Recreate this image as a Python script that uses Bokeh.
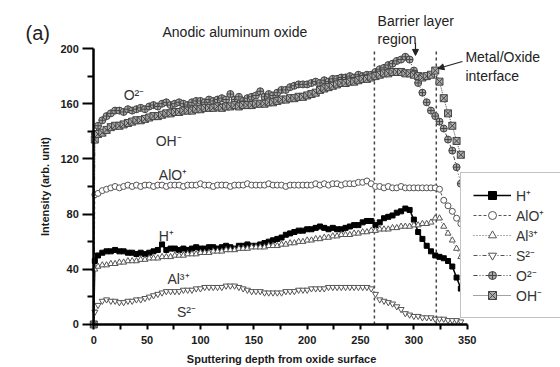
import math

from bokeh.plotting import figure
from bokeh.models import (Range1d, Legend, LegendItem, Label, Arrow, NormalHead,
                          ColumnDataSource, FixedTicker)
from bokeh.embed import file_html
from bokeh.resources import INLINE
from bokeh.core.properties import value

# sputtering depth grid (arb. depth units)
depth = [0, 1] + list(range(4, 348, 4))

h_plus = [0, 46, 50, 52, 53, 53, 54, 53, 53, 52,
          52, 51, 52, 51, 52, 53, 54, 58, 54, 55,
          55, 54, 55, 54, 55, 56, 55, 55, 56, 56,
          55, 56, 57, 56, 55, 57, 57, 58, 57, 57,
          58, 59, 60, 61, 62, 63, 65, 66, 67, 68,
          68, 69, 69, 70, 71, 70, 69, 70, 69, 69,
          70, 71, 72, 72, 74, 75, 75, 72, 74, 77,
          78, 79, 81, 82, 84, 83, 76, 67, 62, 57,
          53, 50, 49, 48, 46, 42, 34, 26]

alo_plus = [0, 94, 95, 97, 98, 99, 100, 99, 100, 101,
            100, 101, 100, 101, 101, 100, 101, 101, 100, 101,
            101, 101, 100, 101, 101, 101, 102, 101, 101, 100,
            101, 101, 101, 100, 101, 101, 101, 102, 101, 101,
            101, 101, 102, 101, 101, 101, 100, 101, 101, 101,
            101, 101, 101, 102, 101, 102, 101, 102, 102, 101,
            102, 102, 102, 103, 103, 104, 102, 100, 100, 99,
            100, 99, 99, 100, 99, 99, 99, 99, 99, 99,
            99, 99, 98, 90, 86, 82, 77, 73]

al3_plus = [0, 40, 42, 43, 43, 44, 44, 45, 45, 46,
            46, 46, 47, 47, 48, 48, 48, 49, 49, 49,
            50, 50, 50, 51, 51, 51, 52, 52, 52, 53,
            53, 53, 54, 54, 54, 55, 55, 55, 56, 56,
            56, 56, 57, 57, 57, 58, 58, 59, 59, 60,
            60, 61, 61, 62, 62, 63, 63, 64, 64, 65,
            65, 65, 66, 66, 67, 67, 68, 68, 69, 69,
            69, 70, 70, 71, 71, 71, 72, 72, 73, 73,
            74, 77, 77, 71, 66, 61, 55, 49]

s2_minus = [0, 9, 14, 17, 18, 17, 17, 16, 16, 17,
            17, 18, 18, 19, 20, 21, 22, 23, 24, 24,
            24, 24, 25, 25, 25, 26, 26, 27, 27, 27,
            27, 27, 28, 28, 28, 27, 26, 25, 24, 24,
            24, 23, 23, 23, 23, 23, 24, 24, 24, 25,
            25, 25, 26, 26, 26, 26, 27, 27, 27, 27,
            27, 27, 27, 27, 27, 27, 26, 22, 18, 17,
            16, 15, 13, 11, 8, 7, 6, 6, 5, 5,
            5, 4, 4, 4, 3, 3, 3, 2]

o2_minus = [0, 138, 144, 148, 151, 153, 155, 155, 154, 156,
            155, 156, 157, 156, 158, 159, 158, 160, 161, 159,
            160, 161, 160, 159, 161, 162, 162, 161, 163, 162,
            163, 164, 163, 167, 163, 165, 162, 164, 165, 166,
            169, 165, 167, 166, 168, 170, 170, 172, 173, 174,
            174, 174, 175, 176, 175, 177, 176, 178, 178, 179,
            179, 180, 179, 181, 180, 181, 181, 183, 185, 186,
            188, 189, 191, 192, 194, 192, 184, 175, 168, 161,
            155, 151, 147, 142, 134, 126, 114, 102]

oh_minus = [0, 134, 138, 139, 141, 143, 144, 144, 145, 146,
            147, 148, 148, 149, 150, 151, 151, 152, 153, 153,
            154, 154, 155, 155, 155, 156, 156, 157, 157, 157,
            158, 157, 158, 158, 159, 158, 159, 159, 159, 160,
            160, 160, 161, 161, 162, 163, 163, 164, 164, 165,
            165, 166, 167, 168, 170, 171, 172, 173, 174, 175,
            175, 176, 176, 177, 178, 178, 179, 180, 181, 182,
            182, 183, 183, 183, 182, 182, 181, 180, 179, 180,
            181, 184, 176, 164, 153, 144, 133, 123]

species = ["H⁺", "AlO⁺", "Al³⁺", "S²⁻", "O²⁻", "OH⁻"]

x_ticks = [0, 50, 100, 150, 200, 250, 300, 350]
x_minor = [25, 75, 125, 175, 225, 275, 325]
y_ticks = [0, 40, 80, 120, 160, 200]
y_minor = [20, 60, 100, 140, 180]

# barrier layer start and metal/oxide interface depths
boundaries = [263, 321]

# in-plot species labels
tag_text = ["O²⁻", "OH⁻", "AlO⁺", "H⁺", "Al³⁺", "S²⁻"]
tag_x = [28, 58, 61, 61, 69, 78]
tag_y = [166, 133, 108, 64, 33, 9]

FONT = "Liberation Sans"

# the frame fills the whole canvas; the axes are pinned at depth 0 / intensity 0
p = figure(width=560, height=367, output_backend="svg", toolbar_location=None,
           x_range=Range1d(-87.4, 437.4), y_range=Range1d(-31.2, 234.8),
           min_border_left=0, min_border_right=0, min_border_top=0,
           min_border_bottom=0)
p.outline_line_color = None
p.grid.visible = False
p.background_fill_color = "white"
p.border_fill_color = "white"

src = ColumnDataSource(dict(depth=depth, h=h_plus, alo=alo_plus, al=al3_plus,
                            s=s2_minus, o=o2_minus, oh=oh_minus))

# vertical region boundaries
p.segment(x0=boundaries, x1=boundaries, y0=[0, 0], y1=[200, 200],
          line_color="#444444", line_width=1.5, line_dash="3 3")

styles = [
    ("h", "square", "solid", "#000000", "#000000", "#000000", 5),
    ("alo", "circle", "3 2", "#555555", "#555555", "white", 6),
    ("al", "triangle", "1 2", "#555555", "#555555", "white", 6),
    ("s", "inverted_triangle", "4 2 1 2", "#555555", "#555555", "white", 6),
    ("o", "circle_cross", "4 2 1 2 1 2", "#444444", "#444444", "#aaaaaa", 7),
    ("oh", "square_x", "1 1", "#444444", "#444444", "#aaaaaa", 7),
]

items = []
for (col, marker, dash, lc, mc, fc, size), name in zip(styles, species):
    lr = p.line("depth", col, source=src, line_color=lc, line_dash=dash,
                line_width=1.5 if col == "h" else 1)
    sr = p.scatter("depth", col, source=src, marker=marker, size=size,
                   line_color=mc, fill_color=fc, line_width=1)
    items.append(LegendItem(label=name, renderers=[lr, sr]))

p.text(x=tag_x, y=tag_y, text=tag_text, text_font=value(FONT),
       text_font_size="14px", text_color="#333333", text_baseline="alphabetic")

legend = Legend(items=items, location=(460, 49), orientation="vertical",
                label_text_font=FONT, label_text_font_size="14px",
                label_text_color="#333333", glyph_width=38, glyph_height=20,
                label_height=20, label_width=60, label_standoff=5, spacing=0,
                padding=12, margin=0, border_line_color="#888888",
                border_line_width=1.5, background_fill_color="white",
                background_fill_alpha=1.0)
p.add_layout(legend)

# axes
for ax in (p.xaxis[0], p.yaxis[0]):
    ax.fixed_location = 0
    ax.axis_line_width = 2.5
    ax.axis_line_color = "black"
    ax.major_tick_line_width = 2
    ax.minor_tick_line_width = 2
    ax.major_tick_in = 0
    ax.minor_tick_in = 0
    ax.major_label_text_font = FONT
    ax.major_label_text_font_style = "bold"
    ax.major_label_text_font_size = "11px"
    ax.major_label_text_color = "#1a1a1a"

p.xaxis.bounds = (0, 350)
p.xaxis.ticker = FixedTicker(ticks=x_ticks, minor_ticks=x_minor)
p.xaxis.major_tick_out = 5
p.xaxis.minor_tick_out = 5
p.xaxis.major_label_standoff = 7

p.yaxis.bounds = (0, 200)
p.yaxis.ticker = FixedTicker(ticks=y_ticks, minor_ticks=y_minor)
p.yaxis.major_tick_out = 11
p.yaxis.minor_tick_out = 6
p.yaxis.major_label_standoff = 4

# axis titles
p.add_layout(Label(x=176, y=-25.4, text="Sputtering depth from oxide surface",
                   text_font=FONT, text_font_size="11px", text_font_style="bold",
                   text_color="#1a1a1a", text_align="center",
                   text_baseline="alphabetic"))
p.add_layout(Label(x=-45.3, y=100, text="Intensity (arb. unit)", angle=math.pi / 2,
                   text_font=FONT, text_font_size="11px", text_font_style="bold",
                   text_color="#1a1a1a", text_align="center",
                   text_baseline="middle"))

# header and region annotations
for txt, x, y, size in [("(a)", -64, 211.6, "20px"),
                        ("Anodic aluminum oxide", 64.4, 212, "14px"),
                        ("Barrier layer", 266, 219.6, "14px"),
                        ("region", 266, 207.2, "14px"),
                        ("Metal/Oxide", 348.3, 193.5, "14px"),
                        ("interface", 348.3, 180.4, "14px")]:
    p.add_layout(Label(x=x, y=y, text=txt, text_font=FONT, text_font_size=size,
                       text_color="#222222", text_baseline="alphabetic"))

p.add_layout(Arrow(end=NormalHead(size=6, fill_color="#222222", line_color="#222222"),
                   x_start=301.5, y_start=204, x_end=301.5, y_end=195,
                   line_color="#222222", line_width=1.2))
p.add_layout(Arrow(end=NormalHead(size=6, fill_color="#222222", line_color="#222222"),
                   x_start=345.5, y_start=190.6, x_end=322.5, y_end=185.5,
                   line_color="#222222", line_width=1.2))

open("out.html", "w").write(file_html(p, INLINE))
